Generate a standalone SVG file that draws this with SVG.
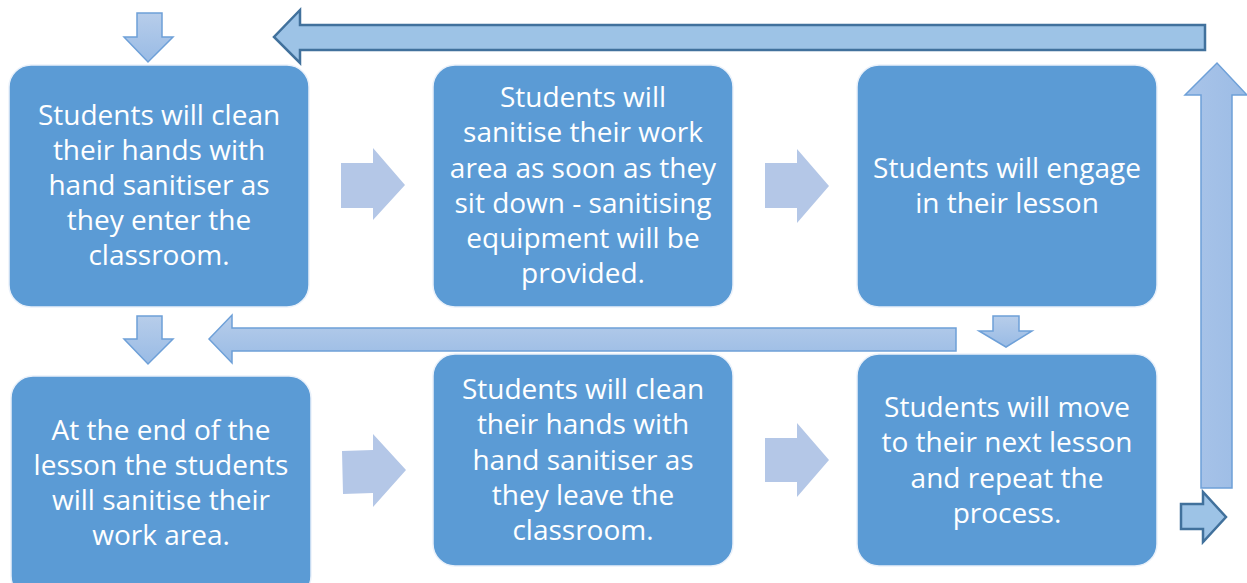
<svg xmlns="http://www.w3.org/2000/svg" width="1247" height="583" viewBox="0 0 1247 583">
<defs>
<linearGradient id="gv" x1="0" y1="0" x2="0" y2="1"><stop offset="0" stop-color="#B7CDEA"/><stop offset="1" stop-color="#99BBE5"/></linearGradient>
<linearGradient id="gh" x1="0" y1="0" x2="1" y2="0"><stop offset="0" stop-color="#A9C4E9"/><stop offset="1" stop-color="#9CBCE5"/></linearGradient>
</defs>
<style>
.box{fill:#5B9BD5;stroke:#EAF1FA;stroke-width:1.5}
.t{font-family:"Open Sans","Noto Sans","Liberation Sans",sans-serif;font-size:28px;fill:#FFFFFF;text-anchor:middle}
.la{fill:url(#gv);stroke:#6EA0D8;stroke-width:1.5;stroke-linejoin:miter}
.lah{fill:url(#gh);stroke:#6EA0D8;stroke-width:1.5}
.da{fill:#9DC3E6;stroke:#41719C;stroke-width:2.5}
.ra{fill:#B4C7E7}
</style>
<g id="connectors">
<polygon class="la" points="137,13 162,13 162,37 173,37 148,62 124,37 137,37"/>
<polygon class="da" points="1205,25 1205,50 300,50 300,63 274,37 300,10 300,25"/>
<polygon class="lah" points="1201,488 1232,488 1232,95 1247,95 1217,63 1185,95 1201,95"/>
<polygon class="da" points="1181,504 1203,504 1203,492 1226,517 1203,542 1203,529 1181,529"/>
<polygon class="la" points="956,328 956,351 232,351 232,363 209,339 232,315 232,328"/>
<polygon class="la" points="993,316 1019,316 1019,331 1032,331 1006,347 979,331 993,331"/>
<polygon class="la" points="137,316 162,316 162,339 173,339 148,364 124,339 137,339"/>
<polygon class="ra" points="341,163 373,163 373,148 405,185 373,220 373,208 341,208"/>
<polygon class="ra" points="765,163 797,163 797,149 829,186 797,223 797,208 765,208"/>
<polygon class="ra" points="342,451 373,450 373,434 406,470 373,507 373,493 343,494"/>
<polygon class="ra" points="765,438 797,438 797,423 829,460 797,497 797,482 765,482"/>
</g>
<g id="n1">
<rect class="box" x="9" y="65" width="300" height="242" rx="22"/>
<text class="t" x="159" y="125">Students will clean</text>
<text class="t" x="159" y="160">their hands with</text>
<text class="t" x="159" y="195">hand sanitiser as</text>
<text class="t" x="159" y="230">they enter the</text>
<text class="t" x="159" y="265">classroom.</text>
</g>
<g id="n2">
<rect class="box" x="433" y="65" width="300" height="242" rx="22"/>
<text class="t" x="583" y="107">Students will</text>
<text class="t" x="583" y="142">sanitise their work</text>
<text class="t" x="583" y="178">area as soon as they</text>
<text class="t" x="583" y="213">sit down - sanitising</text>
<text class="t" x="583" y="248">equipment will be</text>
<text class="t" x="583" y="283">provided.</text>
</g>
<g id="n3">
<rect class="box" x="857" y="65" width="300" height="242" rx="22"/>
<text class="t" x="1007" y="178">Students will engage</text>
<text class="t" x="1007" y="213">in their lesson</text>
</g>
<g id="n4">
<rect class="box" x="11" y="376" width="300" height="222" rx="22"/>
<text class="t" x="161" y="440">At the end of the</text>
<text class="t" x="161" y="475">lesson the students</text>
<text class="t" x="161" y="510">will sanitise their</text>
<text class="t" x="161" y="545">work area.</text>
</g>
<g id="n5">
<rect class="box" x="433" y="354" width="300" height="212" rx="22"/>
<text class="t" x="583" y="399">Students will clean</text>
<text class="t" x="583" y="434">their hands with</text>
<text class="t" x="583" y="470">hand sanitiser as</text>
<text class="t" x="583" y="505">they leave the</text>
<text class="t" x="583" y="540">classroom.</text>
</g>
<g id="n6">
<rect class="box" x="857" y="354" width="300" height="212" rx="22"/>
<text class="t" x="1007" y="417">Students will move</text>
<text class="t" x="1007" y="452">to their next lesson</text>
<text class="t" x="1007" y="488">and repeat the</text>
<text class="t" x="1007" y="523">process.</text>
</g>
</svg>
